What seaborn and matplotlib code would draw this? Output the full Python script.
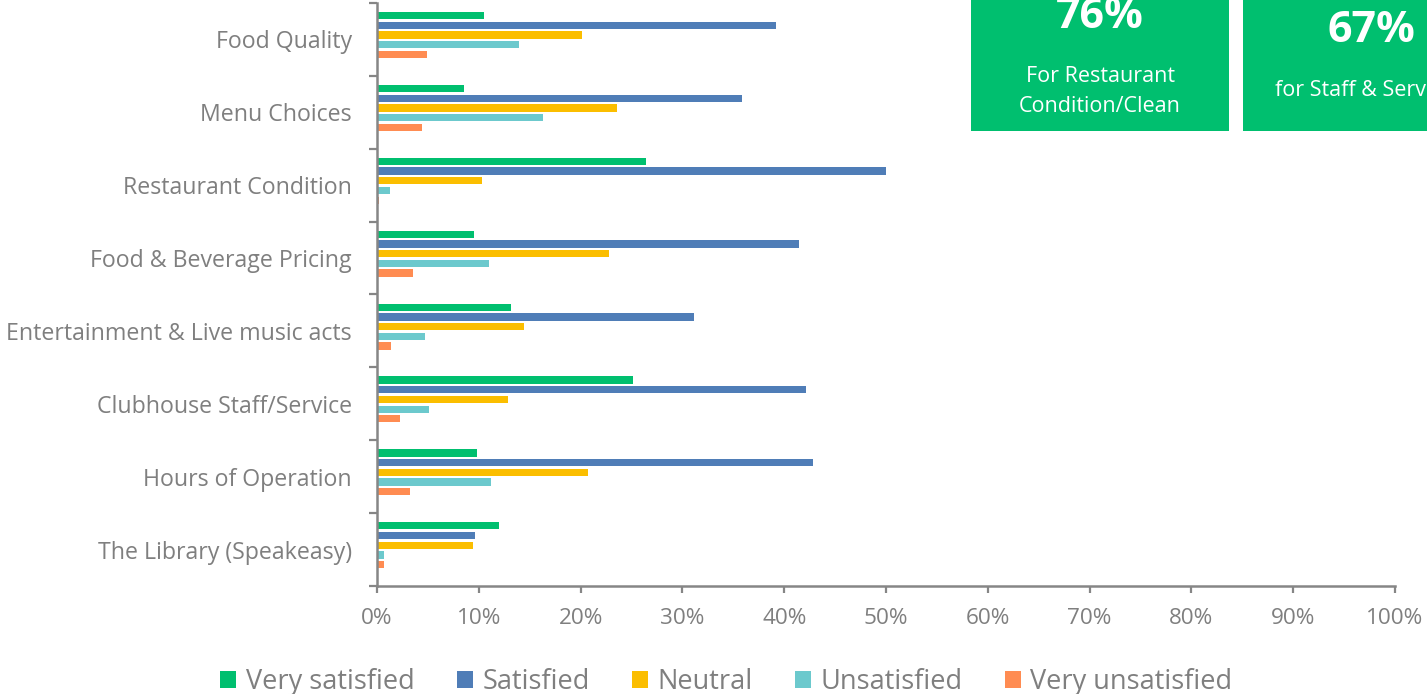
import matplotlib
matplotlib.use("Agg")
import matplotlib.pyplot as plt
from matplotlib.patches import Rectangle, Patch
from matplotlib.ticker import FixedLocator, FuncFormatter, NullFormatter
import pandas as pd
import seaborn as sns

# Survey results: share of respondents per rating, in percent
categories = [
    "Food Quality",
    "Menu Choices",
    "Restaurant Condition",
    "Food & Beverage Pricing",
    "Entertainment & Live music acts",
    "Clubhouse Staff/Service",
    "Hours of Operation",
    "The Library (Speakeasy)",
]
ratings = ["Very satisfied", "Satisfied", "Neutral", "Unsatisfied", "Very unsatisfied"]
very_satisfied = [10.5, 8.5, 26.4, 9.5, 13.2, 25.1, 9.8, 12.0]
satisfied = [39.2, 35.9, 50.0, 41.5, 31.1, 42.1, 42.8, 9.6]
neutral = [20.1, 23.6, 10.3, 22.8, 14.4, 12.9, 20.7, 9.4]
unsatisfied = [13.9, 16.3, 1.3, 11.0, 4.7, 5.1, 11.2, 0.7]
very_unsatisfied = [4.9, 4.4, 0.2, 3.5, 1.4, 2.3, 3.2, 0.7]
x_ticks = [0, 10, 20, 30, 40, 50, 60, 70, 80, 90, 100]

colors = ["#00BF6F", "#4F7DB7", "#FBBE00", "#6CC9CD", "#FF8C52"]
text_gray = "#7F7F7F"
axis_gray = "#868686"

rows = []
for rating, values in zip(ratings, [very_satisfied, satisfied, neutral,
                                    unsatisfied, very_unsatisfied]):
    for cat, v in zip(categories, values):
        rows.append({"Category": cat, "Rating": rating, "Percent": v})
df = pd.DataFrame(rows)

sns.set_theme(style="white")
plt.rcParams["font.family"] = ["Open Sans", "DejaVu Sans"]

fig = plt.figure(figsize=(14.27, 6.94), dpi=100)
ax = fig.add_axes([0.2642, 0.1556, 0.7134, 0.8401])

sns.barplot(data=df, y="Category", x="Percent", hue="Rating",
            order=categories, hue_order=ratings, palette=colors,
            saturation=1, orient="h", width=0.665, gap=0.25, errorbar=None,
            edgecolor="none", ax=ax, legend=True)

n = len(categories)
shift = 0.06
ax.set_ylim(n - 0.5 + shift, -0.5 + shift)
ax.set_xlim(0, 100)
ax.xaxis.set_major_locator(FixedLocator(x_ticks))
ax.xaxis.set_major_formatter(FuncFormatter(lambda v, _: f"{v:.0f}%"))

# Category boundaries get tick marks, labels sit midway between them
ax.yaxis.set_major_locator(FixedLocator([i - 0.5 + shift for i in range(n + 1)]))
ax.yaxis.set_major_formatter(NullFormatter())
ax.yaxis.set_minor_locator(FixedLocator([i + shift for i in range(n)]))
ax.set_yticklabels(categories, minor=True)
ax.tick_params(axis="y", which="major", length=5.5, width=1.6,
               color=axis_gray, direction="out", left=True)
ax.tick_params(axis="y", which="minor", length=0, pad=18,
               labelsize=16.7, labelcolor=text_gray)
ax.tick_params(axis="x", which="major", length=5, width=1.6,
               color=axis_gray, direction="out", bottom=True, pad=11,
               labelsize=16.2, labelcolor=text_gray)

ax.set_xlabel("")
ax.set_ylabel("")
for side in ["top", "right"]:
    ax.spines[side].set_visible(False)
for side in ["left", "bottom"]:
    ax.spines[side].set_color(axis_gray)
    ax.spines[side].set_linewidth(1.8)
ax.grid(False)

ax.get_legend().remove()
handles = [Patch(facecolor=c, edgecolor="none") for c in colors]
fig.legend(handles, ratings, loc="center", bbox_to_anchor=(0.509, 0.017),
           ncol=5, frameon=False, fontsize=19.5, labelcolor=text_gray,
           handlelength=0.6, handleheight=0.6, handletextpad=0.35,
           columnspacing=1.55)

# Highlight boxes
W, H = 1427, 694
box_green = "#00BF6F"
for x0 in (971, 1243):
    fig.patches.append(Rectangle((x0 / W, 1 - 131 / H), 258 / W, 140 / H,
                                 transform=fig.transFigure, facecolor=box_green,
                                 edgecolor="none", zorder=5))
fig.text(1100 / W, 1 - 16 / H, "76%", ha="center", va="center", color="white",
         fontsize=31, fontweight="bold", zorder=6)
fig.text(1100 / W, 1 - 76 / H, "For Restaurant", ha="center", va="center",
         color="white", fontsize=15.5, zorder=6)
fig.text(1100 / W, 1 - 107 / H, "Condition/Clean", ha="center", va="center",
         color="white", fontsize=15.5, zorder=6)
fig.text(1371 / W, 1 - 31 / H, "67%", ha="center", va="center", color="white",
         fontsize=31, fontweight="bold", zorder=6)
fig.text(1364 / W, 1 - 91 / H, "for Staff & Service", ha="center", va="center",
         color="white", fontsize=15.5, zorder=6)

fig.savefig("out.png", dpi=100)
